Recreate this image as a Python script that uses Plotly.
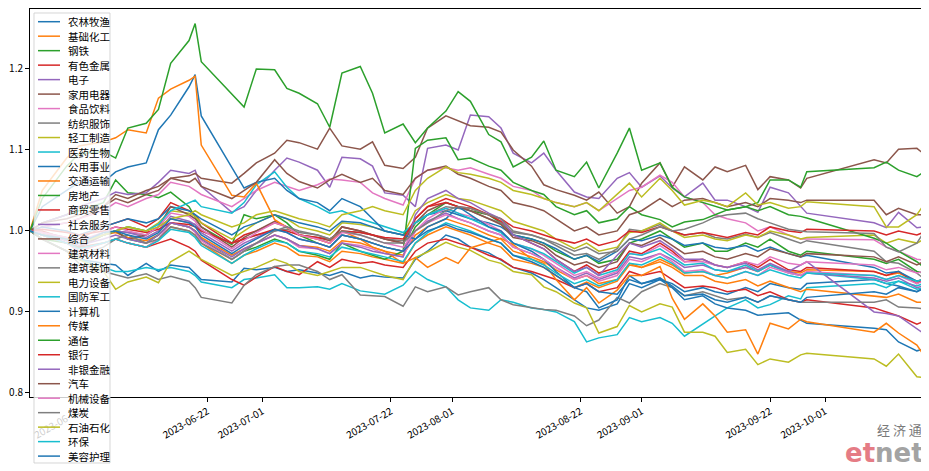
import plotly.graph_objects as go

dates = [
    "2023-05-24","2023-05-26","2023-05-30","2023-06-01","2023-06-05","2023-06-07","2023-06-09","2023-06-12","2023-06-14","2023-06-16",
    "2023-06-19","2023-06-20","2023-06-21","2023-06-26","2023-06-28","2023-06-30","2023-07-03","2023-07-05","2023-07-07","2023-07-10",
    "2023-07-12","2023-07-14","2023-07-17","2023-07-19","2023-07-21","2023-07-24","2023-07-26","2023-07-28","2023-07-31","2023-08-02",
    "2023-08-04","2023-08-07","2023-08-09","2023-08-11","2023-08-14","2023-08-16","2023-08-18","2023-08-21","2023-08-23","2023-08-25",
    "2023-08-28","2023-08-30","2023-09-01","2023-09-04","2023-09-06","2023-09-08","2023-09-11","2023-09-13","2023-09-15","2023-09-18",
    "2023-09-20","2023-09-22","2023-09-25","2023-09-27","2023-09-28","2023-10-09","2023-10-11","2023-10-13","2023-10-16","2023-10-17",
]

names = ["农林牧渔","基础化工","钢铁","有色金属","电子","家用电器","食品饮料","纺织服饰","轻工制造","医药生物",
         "公用事业","交通运输","房地产","商贸零售","社会服务","综合","建筑材料","建筑装饰","电力设备","国防军工",
         "计算机","传媒","通信","银行","非银金融","汽车","机械设备","煤炭","石油石化","环保","美容护理"]

农林牧渔 = [1.000,0.990,0.975,0.965,0.960,0.958,0.945,0.960,0.950,0.958,
          0.955,0.948,0.940,0.937,0.954,0.952,0.955,0.950,0.952,0.948,
          0.945,0.950,0.942,0.945,0.943,0.942,0.965,0.975,0.995,0.990,
          0.980,0.973,0.964,0.955,0.948,0.940,0.930,0.915,0.905,0.902,
          0.910,0.935,0.930,0.940,0.935,0.925,0.930,0.925,0.922,0.930,
          0.925,0.935,0.930,0.928,0.935,0.940,0.935,0.932,0.925,0.930]
基础化工 = [1.000,0.995,0.985,0.975,0.985,0.990,0.985,0.980,0.990,1.005,
          1.000,0.995,0.985,0.960,0.970,0.975,0.985,0.980,0.970,0.968,
          0.962,0.975,0.972,0.968,0.965,0.960,0.985,0.995,1.005,1.000,
          0.995,0.985,0.980,0.965,0.960,0.955,0.945,0.930,0.937,0.930,
          0.938,0.958,0.955,0.965,0.958,0.948,0.950,0.945,0.948,0.955,
          0.950,0.958,0.950,0.948,0.952,0.950,0.945,0.948,0.938,0.940]
钢铁 = [1.000,1.010,1.020,1.025,1.035,1.063,1.047,1.045,1.041,1.048,
        1.030,1.017,1.005,0.983,1.020,1.015,1.020,1.010,0.995,0.985,
        0.980,0.995,0.990,0.985,0.980,0.975,1.005,1.020,1.035,1.030,
        1.025,1.020,1.010,0.995,0.990,0.985,0.975,0.965,0.970,0.960,
        0.965,0.985,0.990,1.000,0.990,0.980,0.985,0.975,0.975,0.985,
        0.980,0.990,0.975,0.970,0.975,0.965,0.960,0.965,0.950,0.948]
有色金属 = [1.000,1.000,0.990,0.990,1.005,1.010,1.015,1.005,1.015,1.035,
          1.025,1.020,1.010,0.985,0.995,1.000,1.010,1.005,0.995,0.990,
          0.985,1.005,1.000,0.995,0.990,0.985,1.015,1.030,1.040,1.035,
          1.030,1.020,1.012,0.995,0.985,0.978,0.965,0.950,0.958,0.948,
          0.955,0.975,0.972,0.985,0.975,0.962,0.965,0.958,0.955,0.962,
          0.955,0.965,0.952,0.950,0.955,0.950,0.945,0.950,0.935,0.940]
电子 = [1.000,1.010,1.020,1.030,1.040,1.048,1.045,1.047,1.060,1.075,
        1.071,1.075,1.055,1.023,1.030,1.050,1.075,1.090,1.085,1.075,
        1.054,1.091,1.089,1.080,1.047,1.044,1.030,1.102,1.106,1.100,
        1.143,1.141,1.127,1.096,1.084,1.096,1.075,1.048,1.042,1.040,
        1.065,1.072,1.054,1.068,1.053,1.042,1.059,1.038,1.038,1.030,
        1.023,1.054,1.047,1.030,1.022,1.010,1.004,1.023,1.004,1.005]
家用电器 = [1.000,1.005,1.010,1.015,1.030,1.040,1.035,1.045,1.050,1.065,
          1.068,1.071,1.065,1.059,1.071,1.084,1.096,1.112,1.109,1.101,
          1.127,1.105,1.101,1.110,1.081,1.077,1.091,1.127,1.142,1.136,
          1.130,1.128,1.122,1.100,1.080,1.057,1.051,1.044,1.038,1.048,
          1.022,1.030,1.059,1.084,1.054,1.079,1.063,1.079,1.073,1.081,
          1.051,1.067,1.063,1.053,1.065,1.088,1.084,1.101,1.102,1.096]
食品饮料 = [1.000,1.005,1.010,1.015,1.025,1.035,1.030,1.040,1.045,1.060,
          1.055,1.050,1.045,1.030,1.040,1.050,1.060,1.055,1.050,1.057,
          1.064,1.063,1.060,1.047,1.040,1.032,1.065,1.075,1.078,1.075,
          1.078,1.070,1.065,1.055,1.050,1.040,1.035,1.030,1.035,1.025,
          1.040,1.050,1.054,1.069,1.060,1.042,1.035,1.020,1.015,1.010,
          1.000,1.005,0.995,0.990,0.990,0.989,0.980,0.975,0.965,0.964]
纺织服饰 = [1.000,0.998,0.992,0.990,0.995,1.000,0.998,0.995,1.005,1.015,
          1.010,1.008,1.000,0.985,0.990,0.995,1.000,1.002,0.998,0.995,
          0.990,1.000,0.998,0.995,0.990,0.988,1.010,1.020,1.030,1.028,
          1.025,1.015,1.010,0.998,0.995,0.990,0.982,0.970,0.972,0.965,
          0.978,1.002,1.000,1.008,1.000,0.995,0.998,0.992,0.990,0.996,
          0.992,0.998,0.990,0.985,0.988,0.975,0.962,0.960,0.948,0.942]
轻工制造 = [1.000,0.995,0.990,0.985,0.995,1.000,1.005,1.000,1.010,1.025,
          1.022,1.018,1.010,0.990,1.000,1.010,1.020,1.015,1.005,1.000,
          0.995,1.010,1.008,1.005,1.000,0.995,1.025,1.035,1.045,1.040,
          1.038,1.030,1.025,1.012,1.005,1.000,0.990,0.978,0.985,0.975,
          0.980,0.998,1.000,1.010,1.000,0.992,0.995,0.990,0.988,0.995,
          0.992,1.000,0.995,0.990,0.992,0.995,0.985,0.990,0.985,0.989]
医药生物 = [1.000,0.990,0.975,0.965,0.955,0.950,0.950,0.955,0.952,0.955,
          0.950,0.945,0.937,0.930,0.940,0.942,0.946,0.930,0.930,0.931,
          0.928,0.935,0.926,0.924,0.922,0.933,0.950,0.940,0.931,0.915,
          0.905,0.902,0.915,0.912,0.905,0.903,0.900,0.888,0.863,0.868,
          0.872,0.893,0.888,0.893,0.886,0.870,0.885,0.894,0.905,0.915,
          0.905,0.909,0.920,0.916,0.930,0.935,0.930,0.938,0.932,0.935]
公用事业 = [1.000,1.005,1.000,0.995,1.005,1.010,1.015,1.010,1.015,1.030,
          1.025,1.020,1.015,0.995,1.005,1.010,1.020,1.015,1.010,1.005,
          1.000,1.012,1.010,1.005,1.000,0.995,1.010,1.020,1.025,1.020,
          1.015,1.010,1.005,0.995,0.990,0.985,0.978,0.965,0.970,0.962,
          0.975,0.990,0.988,0.995,0.990,0.982,0.985,0.980,0.978,0.982,
          0.975,0.980,0.972,0.968,0.970,0.955,0.948,0.950,0.938,0.940]
交通运输 = [1.000,0.998,0.990,0.985,0.995,0.998,0.992,0.988,0.995,1.010,
          1.005,1.000,0.992,0.970,0.978,0.985,0.995,0.990,0.982,0.980,
          0.975,0.988,0.985,0.980,0.975,0.970,0.995,1.005,1.015,1.010,
          1.005,0.995,0.990,0.975,0.968,0.962,0.952,0.940,0.945,0.935,
          0.940,0.960,0.955,0.962,0.955,0.945,0.945,0.938,0.935,0.940,
          0.932,0.938,0.930,0.925,0.928,0.920,0.918,0.922,0.912,0.912]
房地产 = [1.000,0.990,0.985,0.980,0.995,1.000,0.990,0.985,0.995,1.010,
         1.005,1.000,0.990,0.965,0.975,0.980,0.990,0.985,0.975,0.970,
         0.965,0.985,0.975,0.970,0.965,0.975,1.102,1.112,1.115,1.088,
         1.090,1.080,1.075,1.060,1.050,1.045,1.030,1.020,1.025,1.010,
         1.015,1.030,1.020,1.014,1.005,1.011,1.014,1.020,1.026,1.030,
         1.025,1.030,1.020,1.018,1.016,0.991,0.985,0.975,0.962,0.956]
商贸零售 = [1.000,0.995,0.985,0.980,0.985,0.990,0.985,0.980,0.985,0.990,
          0.980,0.975,0.964,0.940,0.933,0.943,0.956,0.950,0.946,0.962,
          0.955,0.965,0.960,0.962,0.958,0.955,0.975,0.985,0.990,0.985,
          0.980,0.970,0.965,0.955,0.950,0.945,0.940,0.930,0.935,0.925,
          0.930,0.950,0.945,0.950,0.940,0.930,0.932,0.930,0.925,0.928,
          0.920,0.925,0.915,0.912,0.915,0.905,0.900,0.895,0.885,0.888]
社会服务 = [1.000,0.998,0.990,0.985,0.995,1.000,0.998,0.992,1.000,1.018,
          1.012,1.008,0.998,0.975,0.985,0.992,1.002,0.998,0.990,0.985,
          0.980,0.995,0.990,0.985,0.980,0.975,1.000,1.012,1.022,1.015,
          1.010,1.000,0.995,0.980,0.972,0.965,0.955,0.942,0.948,0.940,
          0.948,0.968,0.965,0.972,0.965,0.955,0.958,0.952,0.950,0.955,
          0.950,0.958,0.950,0.958,0.962,0.900,0.898,0.895,0.880,0.874]
综合 = [1.000,0.995,0.985,0.980,0.995,1.000,0.990,0.995,1.005,1.030,
        1.020,1.015,1.005,0.980,0.992,1.000,1.012,1.005,0.995,0.992,
        0.988,1.005,1.000,0.995,0.990,0.985,1.010,1.025,1.035,1.030,
        1.025,1.015,1.008,0.992,0.988,0.982,0.970,0.958,0.962,0.955,
        0.962,0.985,0.982,0.992,0.982,0.972,0.975,0.968,0.965,0.972,
        0.968,0.978,0.972,0.968,0.972,0.968,0.962,0.968,0.958,0.962]
建筑材料 = [1.000,0.995,0.985,0.975,0.985,0.990,0.985,0.980,0.990,1.010,
          1.005,0.998,0.988,0.965,0.975,0.985,0.995,0.990,0.980,0.978,
          0.972,0.985,0.982,0.978,0.972,0.968,1.000,1.015,1.028,1.022,
          1.018,1.008,1.000,0.985,0.978,0.970,0.960,0.945,0.950,0.942,
          0.950,0.972,0.970,0.982,0.972,0.962,0.962,0.958,0.955,0.962,
          0.958,0.968,0.960,0.958,0.962,0.958,0.952,0.955,0.948,0.950]
建筑装饰 = [1.000,0.990,0.975,0.960,0.950,0.946,0.942,0.947,0.940,0.944,
          0.938,0.930,0.918,0.911,0.933,0.946,0.956,0.958,0.958,0.950,
          0.940,0.946,0.921,0.920,0.919,0.907,0.931,0.925,0.931,0.921,
          0.925,0.930,0.915,0.909,0.905,0.903,0.902,0.895,0.883,0.890,
          0.918,0.911,0.925,0.935,0.930,0.920,0.925,0.920,0.915,0.918,
          0.912,0.920,0.915,0.912,0.912,0.912,0.915,0.906,0.905,0.904]
电力设备 = [1.000,0.990,0.975,0.965,0.950,0.928,0.937,0.943,0.936,0.962,
          0.975,0.970,0.965,0.945,0.950,0.955,0.965,0.960,0.950,0.945,
          0.950,0.955,0.955,0.950,0.945,0.940,0.967,0.974,0.986,0.980,
          0.976,0.964,0.960,0.950,0.946,0.931,0.925,0.911,0.905,0.874,
          0.882,0.908,0.900,0.910,0.906,0.875,0.875,0.870,0.850,0.854,
          0.835,0.842,0.838,0.847,0.849,0.842,0.833,0.848,0.820,0.819]
国防军工 = [1.000,0.995,0.990,0.985,0.995,1.000,1.005,1.000,1.008,1.025,
          1.035,1.038,1.030,1.022,1.035,1.057,1.073,1.054,1.040,1.030,
          1.022,1.025,1.015,1.010,1.005,0.998,1.010,1.020,1.028,1.022,
          1.015,1.005,0.998,0.985,0.978,0.972,0.962,0.948,0.955,0.945,
          0.952,0.972,0.970,0.978,0.968,0.958,0.960,0.952,0.950,0.958,
          0.950,0.958,0.948,0.945,0.948,0.940,0.935,0.938,0.928,0.930]
计算机 = [1.000,1.030,1.050,1.060,1.060,1.073,1.079,1.084,1.125,1.143,
         1.178,1.193,1.142,1.078,1.053,1.060,1.065,1.050,1.040,1.035,
         1.025,1.040,1.030,1.015,1.000,0.995,0.990,1.005,1.015,1.030,
         1.020,1.005,1.000,0.985,0.975,0.965,0.950,0.930,0.925,0.905,
         0.915,0.945,0.935,0.940,0.930,0.915,0.920,0.910,0.905,0.902,
         0.896,0.897,0.899,0.890,0.886,0.880,0.878,0.863,0.852,0.854]
传媒 = [1.000,1.050,1.090,1.105,1.110,1.115,1.125,1.121,1.164,1.175,
        1.186,1.191,1.106,1.044,1.042,1.059,1.014,1.005,0.995,0.990,
        0.985,1.000,0.990,0.980,0.975,0.960,0.967,0.955,0.967,0.960,
        0.979,0.986,0.991,0.983,0.965,0.960,0.940,0.915,0.930,0.911,
        0.927,0.945,0.945,0.956,0.917,0.891,0.910,0.895,0.875,0.878,
        0.848,0.886,0.879,0.891,0.888,0.875,0.886,0.874,0.859,0.848]
通信 = [1.000,1.040,1.080,1.095,1.098,1.090,1.127,1.133,1.150,1.207,
        1.235,1.256,1.209,1.169,1.153,1.200,1.199,1.176,1.170,1.157,
        1.128,1.195,1.203,1.170,1.121,1.132,1.109,1.127,1.148,1.172,
        1.160,1.119,1.110,1.079,1.091,1.111,1.075,1.067,1.085,1.053,
        1.096,1.127,1.075,1.084,1.054,1.042,1.035,1.030,1.026,1.030,
        1.035,1.063,1.063,1.054,1.073,1.078,1.085,1.075,1.067,1.072]
银行 = [1.000,1.002,0.998,0.995,1.000,1.005,1.002,0.998,1.002,1.010,
        1.008,1.005,1.000,0.985,0.990,0.995,1.002,1.000,0.995,0.992,
        0.990,1.000,0.998,0.995,0.992,0.990,1.015,1.030,1.035,1.030,
        1.028,1.020,1.015,1.005,1.000,0.995,0.990,0.985,0.990,0.982,
        0.988,1.000,0.998,1.005,1.000,0.995,0.998,0.995,0.992,0.998,
        0.995,1.005,1.000,0.998,1.002,1.000,0.995,1.000,0.995,0.998]
非银金融 = [1.000,0.995,0.988,0.982,0.990,0.995,0.990,0.985,0.995,1.010,
          1.005,1.000,0.990,0.968,0.978,0.985,0.995,0.990,0.982,0.978,
          0.972,0.985,0.980,0.975,0.972,0.968,1.020,1.040,1.050,1.040,
          1.035,1.022,1.015,0.995,0.985,0.978,0.965,0.950,0.955,0.945,
          0.970,0.985,0.980,0.988,0.978,0.965,0.965,0.958,0.955,0.960,
          0.952,0.960,0.950,0.945,0.948,0.942,0.938,0.942,0.930,0.932]
汽车 = [1.000,1.010,1.015,1.020,1.030,1.045,1.040,1.050,1.055,1.065,
        1.060,1.065,1.055,1.040,1.050,1.060,1.088,1.071,1.061,1.053,
        1.063,1.070,1.060,1.065,1.050,1.045,1.065,1.075,1.080,1.070,
        1.065,1.055,1.050,1.035,1.030,1.025,1.015,1.000,1.005,0.995,
        1.000,1.020,1.025,1.040,1.030,1.038,1.040,1.035,1.030,1.035,
        1.030,1.040,1.038,1.035,1.038,1.038,1.020,1.028,1.020,1.020]
机械设备 = [1.000,0.998,0.992,0.988,0.998,1.005,1.000,0.995,1.005,1.022,
          1.018,1.012,1.002,0.978,0.988,0.998,1.010,1.005,0.995,0.990,
          0.985,0.998,0.995,0.990,0.985,0.980,1.000,1.010,1.020,1.015,
          1.010,1.000,0.995,0.980,0.972,0.965,0.955,0.940,0.945,0.938,
          0.945,0.965,0.962,0.972,0.962,0.950,0.952,0.945,0.942,0.950,
          0.945,0.955,0.948,0.945,0.950,0.945,0.940,0.945,0.935,0.938]
煤炭 = [1.000,0.990,0.975,0.970,0.980,0.990,0.995,0.985,0.990,1.005,
        1.000,0.995,0.985,0.965,0.975,0.985,1.000,1.005,1.000,0.995,
        0.990,1.000,0.995,0.990,0.985,0.985,1.000,1.010,1.025,1.030,
        1.028,1.020,1.015,1.000,0.995,0.990,0.985,0.975,0.980,0.972,
        0.975,0.990,0.995,1.005,1.000,1.002,1.010,1.017,1.020,1.022,
        1.015,1.010,1.002,1.000,0.999,0.997,0.980,0.974,0.985,0.997]
石油石化 = [1.000,0.995,0.990,0.985,0.995,1.000,1.005,1.000,1.005,1.015,
          1.020,1.025,1.020,1.005,1.010,1.020,1.025,1.020,1.015,1.010,
          1.005,1.020,1.025,1.030,1.025,1.020,1.050,1.065,1.079,1.072,
          1.070,1.065,1.060,1.050,1.045,1.040,1.035,1.030,1.035,1.025,
          1.045,1.059,1.042,1.065,1.050,1.032,1.038,1.035,1.030,1.047,
          1.032,1.035,1.028,1.030,1.036,1.030,1.005,1.005,1.020,1.031]
环保 = [1.000,0.995,0.985,0.978,0.985,0.990,0.985,0.980,0.988,1.002,
        0.998,0.992,0.982,0.960,0.970,0.978,0.988,0.985,0.975,0.972,
        0.968,0.980,0.975,0.972,0.968,0.962,0.985,0.998,1.010,1.005,
        1.000,0.990,0.985,0.970,0.965,0.958,0.948,0.935,0.940,0.932,
        0.940,0.960,0.958,0.968,0.960,0.948,0.950,0.945,0.942,0.950,
        0.945,0.952,0.945,0.942,0.948,0.945,0.940,0.945,0.938,0.940]
美容护理 = [1.000,0.995,0.990,0.985,0.998,1.000,0.995,0.990,0.998,1.015,
          1.010,1.005,0.995,0.972,0.982,0.990,1.002,0.998,0.990,0.985,
          0.980,0.995,0.990,0.985,0.980,0.975,0.990,1.000,1.008,1.002,
          0.998,0.990,0.985,0.970,0.962,0.955,0.945,0.930,0.935,0.925,
          0.922,0.940,0.935,0.942,0.932,0.920,0.922,0.915,0.912,0.918,
          0.912,0.920,0.915,0.912,0.918,0.925,0.922,0.930,0.925,0.928]

series = [农林牧渔,基础化工,钢铁,有色金属,电子,家用电器,食品饮料,纺织服饰,轻工制造,医药生物,
          公用事业,交通运输,房地产,商贸零售,社会服务,综合,建筑材料,建筑装饰,电力设备,国防军工,
          计算机,传媒,通信,银行,非银金融,汽车,机械设备,煤炭,石油石化,环保,美容护理]

tick_dates = ["2023-06-01","2023-06-22","2023-07-01","2023-07-22","2023-08-01",
              "2023-08-22","2023-09-01","2023-09-22","2023-10-01"]
y_ticks = [0.8, 0.9, 1.0, 1.1, 1.2]
y_labels = ["0.8", "0.9", "1.0", "1.1", "1.2"]

bad = [(n, len(s)) for n, s in zip(names, series) if len(s) != len(dates)]
if bad:
    raise ValueError(f"length mismatch: {bad}")

palette = ["#1f77b4","#ff7f0e","#2ca02c","#d62728","#9467bd",
           "#8c564b","#e377c2","#7f7f7f","#bcbd22","#17becf"]

# the page body adds an 8px offset; work in screen pixels and subtract it
OFF = 8
SW, SH = 929, 471                      # screen size
W, H = SW - OFF, SH - OFF              # figure size
plot_left, plot_right, plot_top, plot_bottom = 30, 923, 9, 397   # screen px
L = plot_left - OFF
R = SW - plot_right
T = plot_top - OFF
B = SH - plot_bottom
pw, ph = W - L - R, H - T - B

def px_x(x):
    return (x - plot_left) / pw

def px_y(y):
    return (plot_bottom - y) / ph

fig = go.Figure()
for i, (n, s) in enumerate(zip(names, series)):
    fig.add_trace(go.Scatter(x=dates, y=s, mode="lines", name=n,
                             line=dict(color=palette[i % 10], width=1.5),
                             showlegend=False))

font_fam = "Noto Sans CJK SC, DejaVu Sans, sans-serif"
shapes = []
annotations = []
# legend box
shapes.append(dict(type="rect", xref="paper", yref="paper",
                   x0=px_x(34), x1=px_x(110), y0=px_y(463), y1=px_y(13),
                   fillcolor="rgba(255,255,255,0.8)",
                   line=dict(color="rgba(204,204,204,0.8)", width=1), layer="above"))
for i, n in enumerate(names):
    yy = 21.7 + i * 14.48
    shapes.append(dict(type="line", xref="paper", yref="paper",
                       x0=px_x(38), x1=px_x(60), y0=px_y(yy), y1=px_y(yy),
                       line=dict(color=palette[i % 10], width=1.5), layer="above"))
    annotations.append(dict(xref="paper", yref="paper", x=px_x(66), y=px_y(yy),
                            text=n, showarrow=False, xanchor="left", yanchor="middle",
                            font=dict(size=10.5, color="#000", family=font_fam)))
# watermark
annotations.append(dict(xref="paper", yref="paper", x=px_x(923), y=px_y(430),
                        text="经 济 通", showarrow=False, xanchor="right", yanchor="middle",
                        borderpad=0,
                        font=dict(size=13, color="#7a7a7a", family=font_fam)))
annotations.append(dict(xref="paper", yref="paper", x=px_x(925), y=px_y(453),
                        text='<b><span style="color:#e57c85">et</span><span style="color:#a3a3a3">net</span></b>',
                        showarrow=False, xanchor="right", yanchor="middle", borderpad=0,
                        font=dict(size=26, family="DejaVu Sans, Liberation Sans, sans-serif")))

fig.update_layout(
    width=W, height=H,
    margin=dict(l=L, r=R, t=T, b=B, autoexpand=False),
    paper_bgcolor="white", plot_bgcolor="white",
    shapes=shapes, annotations=annotations,
    font=dict(family=font_fam, size=10, color="#000"),
)
fig.update_xaxes(type="date", range=["2023-05-24", "2023-10-17"],
                 tickvals=tick_dates, ticktext=tick_dates, tickangle=-30,
                 showline=True, mirror=True, linecolor="black", linewidth=1,
                 ticks="outside", ticklen=4, tickcolor="black", showgrid=False, zeroline=False,
                 tickfont=dict(size=10), automargin=False)
fig.update_yaxes(range=[0.795, 1.274], tickvals=y_ticks, ticktext=y_labels,
                 showline=True, mirror=True, linecolor="black", linewidth=1,
                 ticks="outside", ticklen=4, tickcolor="black", showgrid=False, zeroline=False,
                 tickfont=dict(size=10), automargin=False)

fig.write_html("out.html")
